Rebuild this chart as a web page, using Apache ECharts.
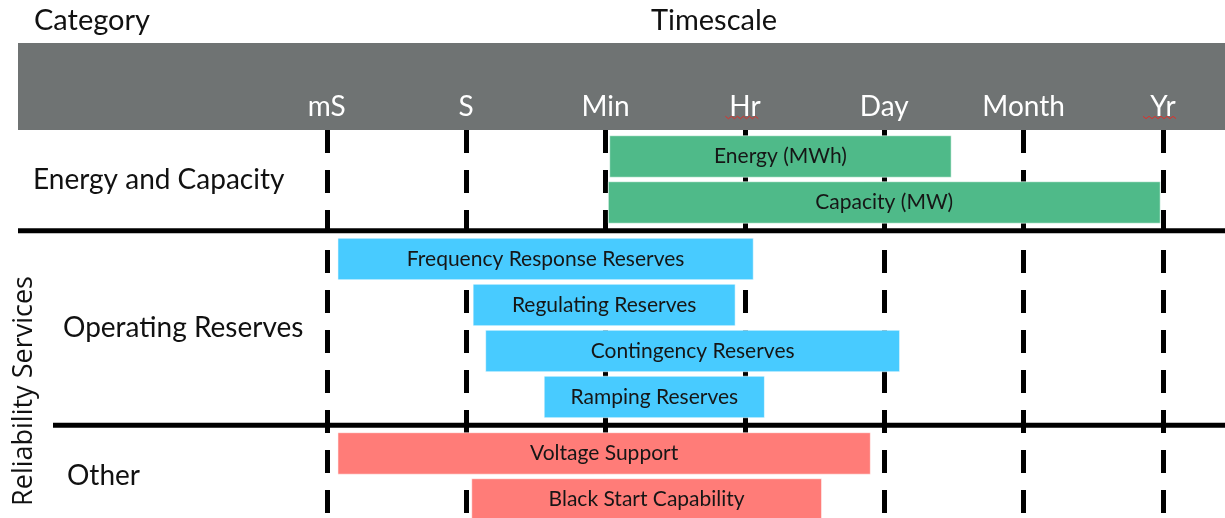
<!DOCTYPE html>
<html>
<head>
<meta charset="utf-8">
<script src="https://cdn.jsdelivr.net/npm/echarts@6/dist/echarts.min.js"></script>
<style>html,body{margin:0;padding:0;background:#fff}#c{width:1225px;height:518px}</style>
</head>
<body>
<div id="c"></div>
<script>
// ---- data ----
const tickLabels = ['mS', 'S', 'Min', 'Hr', 'Day', 'Month', 'Yr'];
const groupNames = ['Energy and Capacity', 'Operating Reserves', 'Other'];
const superGroupName = 'Reliability Services';
const services = ['Energy (MWh)', 'Capacity (MW)', 'Frequency Response Reserves', 'Regulating Reserves',
                  'Contingency Reserves', 'Ramping Reserves', 'Voltage Support', 'Black Start Capability'];
const serviceGroup = [0, 0, 1, 1, 1, 1, 2, 2];
const startValues = [2.03, 2.02, 0.08, 1.05, 1.14, 1.56, 0.08, 1.04];
const endValues   = [4.48, 5.98, 3.06, 2.93, 4.11, 3.14, 3.90, 3.55];
const groupColors = ['#4fba89', '#48cbff', '#ff7c78'];

// ---- layout helpers ----
const GROUP_GAP = 0.228;   // extra spacing between groups (in row units)
const BAR_H = 0.902;       // bar thickness (in row units)
const Y_MIN = -0.576, Y_MAX = 7.859;
const FONT = 'Lato';
function rowPos(i) { return i + serviceGroup[i] * GROUP_GAP; }

const chart = echarts.init(document.getElementById('c'), null, {renderer: 'canvas'});

const data = services.map((name, i) => ({
  name: name,
  value: [startValues[i], endValues[i], rowPos(i), i]
}));

chart.setOption({
  animation: false,
  grid: {left: 326.8, right: 62, top: 130, bottom: 0, containLabel: false},
  xAxis: {
    type: 'value', position: 'top', min: 0, max: 6, interval: 1,
    axisLine: {show: false}, axisTick: {show: false},
    axisLabel: {
      formatter: v => tickLabels[Math.round(v)] || '',
      color: '#ffffff', fontFamily: FONT, fontSize: 28, margin: 9
    },
    splitLine: {show: true, showMinLine: true, showMaxLine: true,
      lineStyle: {color: '#000', width: 5, type: [23, 17]}}
  },
  yAxis: {type: 'value', inverse: true, min: Y_MIN, max: Y_MAX, show: false},
  series: [{
    type: 'custom',
    z: 5,
    data: data,
    encode: {x: [0, 1], y: 2},
    renderItem: function (params, api) {
      const i = api.value(3);
      const s = api.coord([api.value(0), api.value(2)]);
      const e = api.coord([api.value(1), api.value(2)]);
      const h = api.size([0, BAR_H])[1];
      return {
        type: 'rect',
        shape: {x: s[0], y: s[1] - h / 2, width: e[0] - s[0], height: h},
        style: {fill: groupColors[serviceGroup[i]], stroke: 'rgba(255,255,255,0.55)', lineWidth: 1},
        textContent: {style: {text: services[i], fill: '#161616', font: '21px ' + FONT}},
        textConfig: {position: 'inside'}
      };
    }
  }]
});

// ---- decorations placed via the axes ----
const yPix = v => chart.convertToPixel({yAxisIndex: 0}, v);
const xPix = v => chart.convertToPixel({xAxisIndex: 0}, v);
const sep1 = yPix((rowPos(1) + rowPos(2)) / 2);
const sep2 = yPix((rowPos(5) + rowPos(6)) / 2);
const gCenter = g => {
  const idx = serviceGroup.map((gg, i) => gg === g ? i : -1).filter(i => i >= 0);
  return yPix((rowPos(idx[0]) + rowPos(idx[idx.length - 1])) / 2);
};
function squiggle(cx, w, y) {
  const pts = [];
  const n = Math.round(w / 3);
  for (let k = 0; k <= n; k++) pts.push([cx - w / 2 + k * 3, y + (k % 2 ? 1.2 : -1.2)]);
  return {type: 'polyline', z: 20, shape: {points: pts}, style: {stroke: '#e0302a', lineWidth: 1, fill: null}};
}

chart.setOption({
  graphic: [
    {type: 'rect', z: -10, shape: {x: 18, y: 43, width: 1207, height: 87}, style: {fill: '#6f7373'}},
    {type: 'text', x: 34, y: 21, style: {text: 'Category', font: '29px ' + FONT, fill: '#111', verticalAlign: 'middle'}},
    {type: 'text', x: 714, y: 21, style: {text: 'Timescale', font: '29px ' + FONT, fill: '#111', align: 'center', verticalAlign: 'middle'}},
    {type: 'line', z: 20, shape: {x1: 18, y1: sep1, x2: 1225, y2: sep1}, style: {stroke: '#000', lineWidth: 5}},
    {type: 'line', z: 20, shape: {x1: 53, y1: sep2, x2: 1225, y2: sep2}, style: {stroke: '#000', lineWidth: 5}},
    {type: 'text', x: 33, y: gCenter(0), style: {text: groupNames[0], font: '28px ' + FONT, fill: '#111', verticalAlign: 'middle'}},
    {type: 'text', x: 63, y: gCenter(1), style: {text: groupNames[1], font: '28px ' + FONT, fill: '#111', verticalAlign: 'middle'}},
    {type: 'text', x: 67, y: gCenter(2), style: {text: groupNames[2], font: '28px ' + FONT, fill: '#111', verticalAlign: 'middle'}},
    {type: 'text', x: 24, y: 391, rotation: Math.PI / 2,
      style: {text: superGroupName, font: '27px "Open Sans"', fill: '#111', align: 'center', verticalAlign: 'middle'}},
    squiggle(xPix(3) - 3, 33, 117.5),
    squiggle(xPix(6) - 4, 32, 117.5)
  ]
});
</script>
</body>
</html>
